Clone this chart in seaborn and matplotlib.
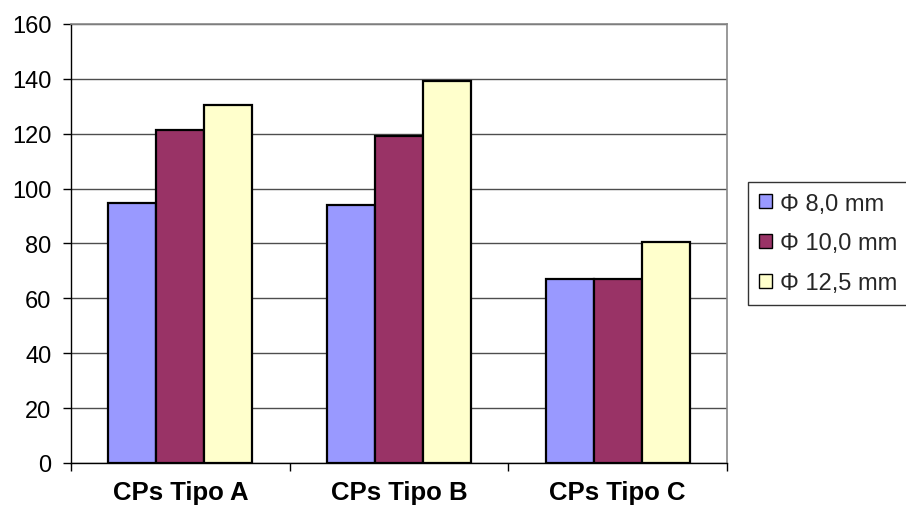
import matplotlib
matplotlib.use("Agg")
import matplotlib.pyplot as plt
import seaborn as sns
import pandas as pd
from matplotlib.ticker import FixedLocator

categories = ["CPs Tipo A", "CPs Tipo B", "CPs Tipo C"]
series = ["Φ 8,0 mm", "Φ 10,0 mm", "Φ 12,5 mm"]
values_8_0 = [94.6, 94.0, 67.2]
values_10_0 = [121.3, 119.3, 67.2]
values_12_5 = [130.3, 139.1, 80.5]
colors = ["#9999FF", "#993366", "#FFFFCC"]
yticks = [0, 20, 40, 60, 80, 100, 120, 140, 160]

df = pd.DataFrame({
    "cat": categories * 3,
    "serie": [s for s in series for _ in categories],
    "valor": values_8_0 + values_10_0 + values_12_5,
})

sns.set_theme(style="white")
plt.rcParams["font.family"] = ["Liberation Sans", "DejaVu Sans"]

fig = plt.figure(figsize=(9.06, 5.10), dpi=100)
ax = fig.add_axes([71 / 906, 1 - 464 / 510, (727 - 71) / 906, (464 - 25) / 510])

sns.barplot(data=df, x="cat", y="valor", hue="serie", order=categories,
            hue_order=series, palette=colors, width=0.66, gap=0,
            edgecolor="black", linewidth=1.6, saturation=1, ax=ax, legend=True)

ax.set_xlim(-0.5, 2.5)
ax.set_ylim(0, 160)
ax.set_yticks(yticks)
ax.set_yticklabels([str(v) for v in yticks])
ax.set_xlabel("")
ax.set_ylabel("")

# grid behind the bars
ax.set_axisbelow(True)
ax.yaxis.grid(True, color="#4d4d4d", linewidth=1.0)
ax.xaxis.grid(False)

for side in ["top", "right"]:
    ax.spines[side].set_color("#888888")
    ax.spines[side].set_linewidth(1.2)
for side in ["left", "bottom"]:
    ax.spines[side].set_color("black")
    ax.spines[side].set_linewidth(1.0)

ax.tick_params(axis="y", which="major", left=True, length=6, width=1,
               color="black", labelsize=17, pad=8, labelcolor="black")
ax.tick_params(axis="x", which="major", bottom=False, length=0, pad=12)
ax.xaxis.set_minor_locator(FixedLocator([-0.5, 0.5, 1.5, 2.5]))
ax.tick_params(axis="x", which="minor", bottom=True, length=6, width=1,
               color="black")
for lbl in ax.get_xticklabels():
    lbl.set_fontsize(18.5)
    lbl.set_fontweight("bold")
    lbl.set_color("black")

handles, labels = ax.get_legend_handles_labels()
ax.get_legend().remove()
leg = fig.legend(handles, labels, loc="upper left",
                 bbox_to_anchor=(748 / 906, 1 - 183 / 510),
                 fontsize=17, frameon=True, fancybox=False,
                 handlelength=0.55, handleheight=0.55, handletextpad=0.35,
                 labelspacing=0.75, borderpad=0.45, borderaxespad=0)
leg.get_frame().set_edgecolor("black")
leg.get_frame().set_linewidth(1.0)
for h in leg.legend_handles:
    h.set_linewidth(1.0)

fig.savefig("out.png", dpi=100)
